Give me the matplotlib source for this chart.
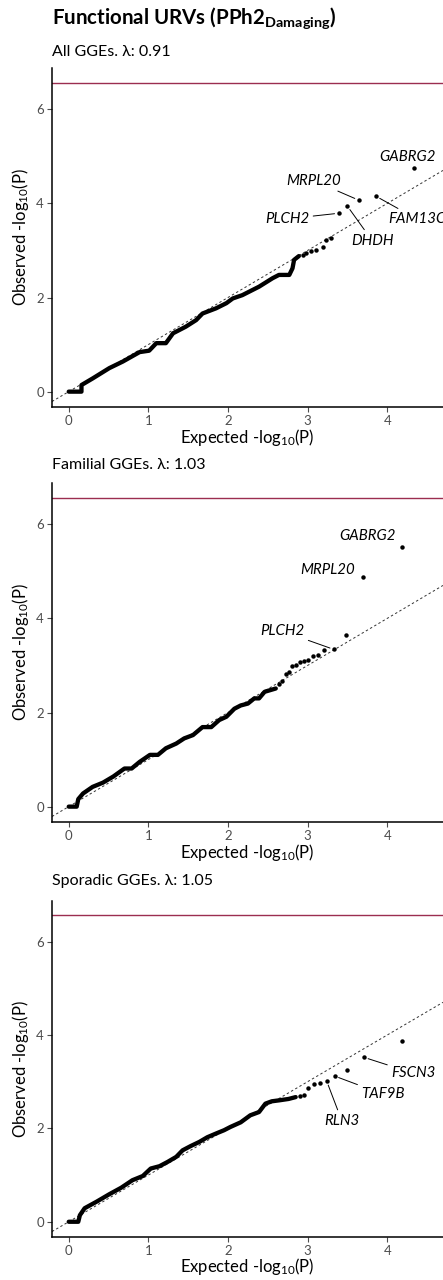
import matplotlib
matplotlib.use("Agg")
import matplotlib.pyplot as plt

# fonts: Lato is the closest humanist sans here, DejaVu as fallback for glyphs
plt.rcParams["font.family"] = ["Lato", "DejaVu Sans"]
plt.rcParams["mathtext.fontset"] = "custom"
plt.rcParams["mathtext.rm"] = "Lato"
plt.rcParams["mathtext.it"] = "Lato:italic"
plt.rcParams["mathtext.bf"] = "Lato:bold"

# ---- data (expected vs observed -log10 P) ----
threshold = 6.56

all_curve_exp = [0, 0.16, 0.16, 0.30, 0.51, 0.68, 0.89, 1.01, 1.10, 1.22, 1.31, 1.47, 1.60, 1.68,
                 1.85, 1.98, 2.06, 2.18, 2.39, 2.56, 2.64, 2.77, 2.81, 2.83, 2.89]
all_curve_obs = [0, 0, 0.14, 0.28, 0.50, 0.64, 0.84, 0.87, 1.03, 1.03, 1.24, 1.38, 1.52, 1.66,
                 1.77, 1.88, 1.98, 2.05, 2.23, 2.41, 2.48, 2.48, 2.62, 2.80, 2.88]
all_pts_exp = [2.94, 2.98, 3.04, 3.10, 3.19, 3.23, 3.29, 3.39, 3.50, 3.64, 3.86, 4.34]
all_pts_obs = [2.91, 2.94, 2.99, 3.01, 3.08, 3.22, 3.26, 3.79, 3.94, 4.07, 4.15, 4.76]
all_genes = ["GABRG2", "MRPL20", "PLCH2", "DHDH", "FAM13C"]
all_gene_pt = [(4.34, 4.76), (3.64, 4.07), (3.39, 3.79), (3.50, 3.94), (3.86, 4.15)]
all_gene_txt = [(4.25, 4.98), (3.08, 4.48), (2.74, 3.67), (3.81, 3.21), (4.01, 3.67)]
all_gene_seg = [False, True, True, True, True]
all_gene_ha = ["center", "center", "center", "center", "left"]

fam_curve_exp = [0, 0.10, 0.12, 0.18, 0.30, 0.43, 0.56, 0.70, 0.79, 0.89, 1.02, 1.12, 1.22, 1.35,
                 1.45, 1.56, 1.68, 1.79, 1.89, 1.98, 2.08, 2.16, 2.25, 2.33, 2.39, 2.46, 2.60]
fam_curve_obs = [0, 0, 0.16, 0.28, 0.42, 0.51, 0.64, 0.81, 0.81, 0.95, 1.10, 1.10, 1.24, 1.34,
                 1.45, 1.52, 1.69, 1.69, 1.84, 1.91, 2.08, 2.15, 2.19, 2.30, 2.30, 2.44, 2.51]
fam_pts_exp = [2.64, 2.68, 2.73, 2.77, 2.81, 2.86, 2.90, 2.96, 3.01, 3.07, 3.13, 3.21, 3.33,
               3.48, 3.70, 4.18]
fam_pts_obs = [2.61, 2.68, 2.82, 2.86, 2.98, 3.02, 3.07, 3.09, 3.12, 3.21, 3.23, 3.33, 3.34,
               3.64, 4.87, 5.52]
fam_genes = ["GABRG2", "MRPL20", "PLCH2"]
fam_gene_pt = [(4.18, 5.52), (3.70, 4.87), (3.33, 3.34)]
fam_gene_txt = [(3.75, 5.76), (3.25, 5.03), (2.68, 3.73)]
fam_gene_seg = [False, False, True]
fam_gene_ha = ["center", "center", "center"]

spo_curve_exp = [0, 0.12, 0.14, 0.20, 0.35, 0.51, 0.66, 0.80, 0.93, 1.03, 1.14, 1.24, 1.35, 1.43,
                 1.53, 1.64, 1.74, 1.85, 1.95, 2.03, 2.16, 2.28, 2.39, 2.47, 2.55, 2.64, 2.76, 2.85]
spo_curve_obs = [0, 0, 0.14, 0.29, 0.43, 0.59, 0.73, 0.89, 0.98, 1.14, 1.19, 1.28, 1.39, 1.53,
                 1.62, 1.71, 1.81, 1.89, 1.96, 2.03, 2.13, 2.28, 2.35, 2.53, 2.58, 2.60, 2.63, 2.67]
spo_pts_exp = [2.91, 2.96, 3.01, 3.08, 3.15, 3.24, 3.34, 3.49, 3.71, 4.19]
spo_pts_obs = [2.69, 2.71, 2.87, 2.94, 2.97, 3.01, 3.12, 3.24, 3.52, 3.88]
spo_genes = ["FSCN3", "TAF9B", "RLN3"]
spo_gene_pt = [(3.71, 3.52), (3.34, 3.12), (3.24, 3.01)]
spo_gene_txt = [(4.33, 3.18), (3.95, 2.73), (3.43, 2.16)]
spo_gene_seg = [True, True, True]
spo_gene_ha = ["center", "center", "center"]

subtitles = ["All GGEs. \u03bb: 0.91", "Familial GGEs. \u03bb: 1.03", "Sporadic GGEs. \u03bb: 1.05"]

panels = [
    (all_curve_exp, all_curve_obs, all_pts_exp, all_pts_obs,
     all_genes, all_gene_pt, all_gene_txt, all_gene_seg, all_gene_ha),
    (fam_curve_exp, fam_curve_obs, fam_pts_exp, fam_pts_obs,
     fam_genes, fam_gene_pt, fam_gene_txt, fam_gene_seg, fam_gene_ha),
    (spo_curve_exp, spo_curve_obs, spo_pts_exp, spo_pts_obs,
     spo_genes, spo_gene_pt, spo_gene_txt, spo_gene_seg, spo_gene_ha),
]

W, H = 443, 1280
fig = plt.figure(figsize=(W / 100, H / 100), dpi=100)

# axes boxes in pixels: (top, bottom)
boxes = [(68.3, 406.7), (483.3, 821.7), (901.0, 1236.7)]
sub_y = [52, 465, 881]
ax_left = 52

fig.text(ax_left / W, 1 - 18 / H, r"Functional URVs (PPh2$_{\mathbf{Damaging}}$)",
         fontsize=14.8, fontweight="bold", va="center", ha="left")

red = "#9b2d50"
tick_grey = "#4d4d4d"

for i, (cx, cy, px, py, genes, gpt, gtxt, gseg, gha) in enumerate(panels):
    top, bot = boxes[i]
    ax = fig.add_axes([ax_left / W, 1 - bot / H, (W - ax_left) / W, (bot - top) / H])
    fig.text(ax_left / W, 1 - sub_y[i] / H, subtitles[i], fontsize=11.5, va="center", ha="left")

    ax.axline((0, 0), slope=1, color="#333333", lw=0.7, linestyle=(0, (2.5, 2.5)))
    ax.axhline(threshold, color=red, lw=1.0)
    ax.plot(cx, cy, color="black", lw=3.1, solid_joinstyle="round", solid_capstyle="round")
    ax.plot(px, py, "o", color="black", ms=3.2, mew=0)

    for g, pt, tx, seg, ha in zip(genes, gpt, gtxt, gseg, gha):
        kw = {}
        if seg:
            kw["arrowprops"] = dict(arrowstyle="-", color="black", lw=0.7, shrinkA=1, shrinkB=3)
        ax.annotate(g, xy=pt, xytext=tx, fontsize=10.8, style="italic", ha=ha, va="center",
                    annotation_clip=False, **kw)

    ax.set_xlim(-0.21, 4.70)
    ax.set_ylim(-0.32, 6.87)
    ax.set_xticks([0, 1, 2, 3, 4])
    ax.set_yticks([0, 2, 4, 6])
    for s in ["top", "right"]:
        ax.spines[s].set_visible(False)
    for s in ["left", "bottom"]:
        ax.spines[s].set_linewidth(1.1)
        ax.spines[s].set_color("black")
    ax.tick_params(length=3.3, width=0.8, color=tick_grey, labelcolor=tick_grey,
                   labelsize=9.5, pad=2.5)
    ax.set_xlabel("Expected -log$_{10}$(P)", fontsize=12)
    ax.set_ylabel("Observed -log$_{10}$(P)", fontsize=12)
    ax.xaxis.set_label_coords(0.5, -0.09)
    ax.xaxis.label.set_va("center")
    ax.yaxis.set_label_coords(-0.08, 0.5)
    ax.yaxis.label.set_va("center")

fig.savefig("out.png", dpi=100)
